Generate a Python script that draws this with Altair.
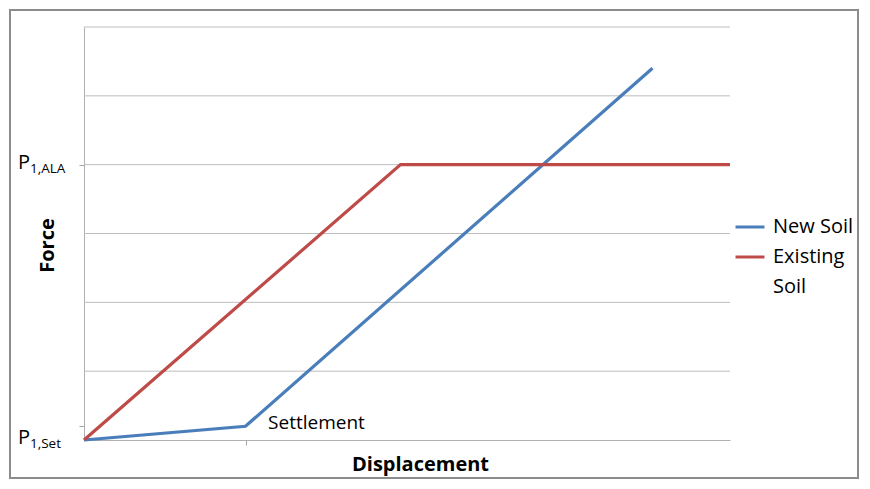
import altair as alt
import pandas as pd

# Series (x in displacement units, y in force units)
new_x = [0, 1.0, 3.52]
new_y = [0, 0.2, 5.4]
old_x = [0, 1.96, 4.0]
old_y = [0, 4.0, 4.0]
series_names = ["New Soil", "Existing Soil"]
series_colors = ["#4A7EBB", "#BE4B48"]

grid_levels = [1, 2, 3, 4, 5, 6]
y_tick_values = [0.2, 4]
x_tick_values = [1]
force_labels = ["1,Set", "1,ALA"]
force_levels = [0, 4]

FONT = "Open Sans"

df = pd.DataFrame({
    "x": new_x + old_x,
    "y": new_y + old_y,
    "series": [series_names[0]] * len(new_x) + [series_names[1]] * len(old_x),
    "order": list(range(len(new_x))) + list(range(len(old_x))),
})
grid_df = pd.DataFrame({"g": grid_levels})
lab_df = pd.DataFrame({"y": force_levels, "sub": force_labels, "p": ["P"] * 2})

xs = alt.Scale(domain=[0, 4], nice=False, zero=True)
ys = alt.Scale(domain=[0, 6], nice=False, zero=True)

W, H = 646, 413

y_axis = alt.Axis(values=y_tick_values, labels=False, grid=False,
                  tickSize=5, tickColor="#a6a6a6", domainColor="#b0b0b0",
                  title="Force", titleFont=FONT, titleFontSize=20,
                  titleFontWeight="bold", titleColor="black",
                  titleX=-37, titleY=218, titleAngle=-90,
                  titleBaseline="middle", titleAlign="center")
x_axis = alt.Axis(values=x_tick_values, labels=False, grid=False,
                  tickSize=5, tickColor="#a6a6a6", domainColor="#b0b0b0",
                  title="Displacement", titleFont=FONT, titleFontSize=20,
                  titleFontWeight="bold", titleColor="black",
                  titleX=336, titleY=24, titleBaseline="middle")

grid = alt.Chart(grid_df).mark_rule(color="#bdbdbd", strokeWidth=1).encode(
    y=alt.Y("g:Q", scale=ys, axis=y_axis),
    x=alt.value(0),
    x2=alt.value(W),
)

lines = alt.Chart(df).mark_line(strokeWidth=3.2).encode(
    x=alt.X("x:Q", scale=xs, axis=x_axis),
    y=alt.Y("y:Q", scale=ys, axis=y_axis),
    color=alt.Color("series:N",
                    scale=alt.Scale(domain=series_names, range=series_colors),
                    legend=alt.Legend(
                        title=None, orient="none", legendX=650, legendY=184,
                        symbolType="stroke", symbolSize=841, symbolStrokeWidth=3,
                        labelFont=FONT, labelFontSize=20, labelColor="black",
                        labelOffset=7, rowPadding=4, labelLimit=200,
                        labelExpr="datum.label == 'Existing Soil' ? ['Existing', 'Soil'] : datum.label")),
    order="order:Q",
)

settle = alt.Chart(pd.DataFrame({"x": [1.14], "y": [0.25], "t": ["Settlement"]})).mark_text(
    align="left", baseline="middle", font=FONT, fontSize=19, color="black"
).encode(x=alt.X("x:Q", scale=xs), y=alt.Y("y:Q", scale=ys), text="t:N")

p_txt = alt.Chart(lab_df).mark_text(
    align="left", baseline="alphabetic", font=FONT, fontSize=20, color="black", dy=4
).encode(x=alt.value(-66), y=alt.Y("y:Q", scale=ys), text="p:N")

sub_txt = alt.Chart(lab_df).mark_text(
    align="left", baseline="alphabetic", font=FONT, fontSize=13.5, color="black", dy=8
).encode(x=alt.value(-54), y=alt.Y("y:Q", scale=ys), text="sub:N")

frame = alt.Chart(grid_df).mark_rect(fill=None, stroke="#8c8c8c", strokeWidth=2).encode(
    x=alt.value(-74), x2=alt.value(W + 128),
    y=alt.value(-17), y2=alt.value(H + 38),
)

chart = alt.layer(frame, grid, lines, settle, p_txt, sub_txt).properties(
    width=W, height=H,
    autosize=alt.AutoSizeParams(type="none"),
    padding={"left": 76, "top": 19, "right": 130, "bottom": 40},
    background="white",
).configure(
    view=alt.ViewConfig(stroke=None),
    style={"guide-label": {"lineHeight": 30}},
)

chart.save("out.html", embed_options={"renderer": "svg", "actions": False})
